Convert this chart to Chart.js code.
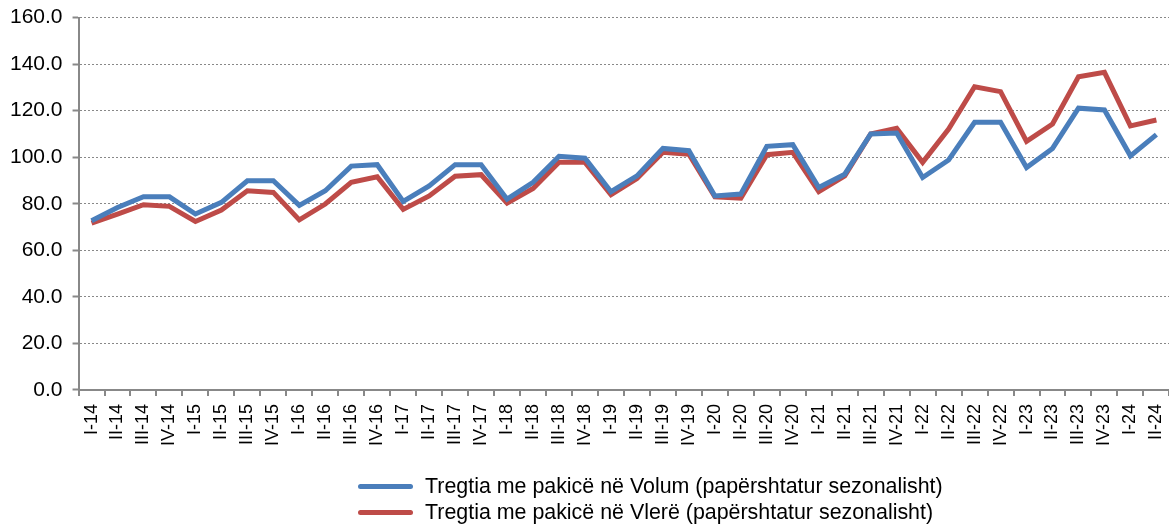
<!DOCTYPE html>
<html>
<head>
<meta charset="utf-8">
<script src="https://cdn.jsdelivr.net/npm/chart.js@4/dist/chart.umd.min.js"></script>
<style>
  html, body { margin: 0; padding: 0; background: #fff; }
  #wrap { width: 1169px; height: 527px; position: relative; overflow: hidden; }
  #plot { position: absolute; left: 0; top: -5px; width: 1186px; height: 532px; }
  #legend { position: absolute; left: 358px; top: 473px; font-family: 'Liberation Sans', Arial, sans-serif; font-size: 21.4px; color: #000; }
  #legend .item { display: flex; align-items: center; height: 26px; white-space: nowrap; }
  #legend .swatch { display: inline-block; width: 55px; height: 5px; border-radius: 3px; margin-right: 12px; }
</style>
</head>
<body>
<div id="wrap"><div id="plot"><canvas id="retailChart"></canvas></div><div id="legend"></div></div>
<script>
    // Quarters I-14 .. II-24
    const years = ['14', '15', '16', '17', '18', '19', '20', '21', '22', '23', '24'];
    const quarters = ['I', 'II', 'III', 'IV'];
    const labels = [];
    years.forEach(y => quarters.forEach(q => labels.push(q + '-' + y)));
    labels.splice(42);

    const volumeValues = [
        72.7, 78.4, 83.0, 83.0, 75.6, 80.6, 89.9, 89.9, 79.3, 85.6, 96.2, 96.8,
        81.0, 87.7, 96.8, 96.8, 82.0, 89.2, 100.4, 99.6, 85.2, 92.0, 103.8, 102.8,
        83.4, 84.2, 104.7, 105.4, 87.0, 92.7, 110.0, 110.4, 91.3, 98.8, 115.0, 115.0,
        95.6, 103.8, 121.1, 120.3, 100.6, 109.7
    ];
    const valueValues = [
        71.7, 75.6, 79.6, 78.9, 72.4, 77.3, 85.6, 84.9, 73.1, 79.9, 89.2, 91.6,
        77.6, 83.4, 91.8, 92.5, 80.3, 86.6, 97.8, 97.8, 83.9, 90.9, 102.1, 101.3,
        83.0, 82.4, 101.1, 102.1, 85.2, 92.0, 110.0, 112.4, 97.8, 112.1, 130.3, 128.2,
        106.8, 114.3, 134.6, 136.5, 113.5, 116.0
    ];
    const yTicks = [0, 20, 40, 60, 80, 100, 120, 140, 160];

    // legend drawn as html, two rows, left aligned
    const htmlLegend = {
        id: 'htmlLegend',
        afterUpdate(chart) {
            const box = document.getElementById('legend');
            box.innerHTML = '';
            chart.data.datasets.forEach(ds => {
                const row = document.createElement('div');
                row.className = 'item';
                const sw = document.createElement('span');
                sw.className = 'swatch';
                sw.style.background = ds.borderColor;
                row.appendChild(sw);
                row.appendChild(document.createTextNode(ds.label));
                box.appendChild(row);
            });
        }
    };

    const ctx = document.getElementById('retailChart').getContext('2d');
    new Chart(ctx, {
        type: 'line',
        data: {
        labels: labels,
        datasets: [{
            label: 'Tregtia me pakicë në Volum (papërshtatur sezonalisht)',
            data: volumeValues,
            borderColor: '#4A7EBB',
            backgroundColor: '#4A7EBB',
            borderWidth: 5,
            pointRadius: 0,
            tension: 0
        }, {
            label: 'Tregtia me pakicë në Vlerë (papërshtatur sezonalisht)',
            data: valueValues,
            borderColor: '#BE4B48',
            backgroundColor: '#BE4B48',
            borderWidth: 5,
            pointRadius: 0,
            tension: 0
        }]
        },
        options: {
        responsive: true,
        maintainAspectRatio: false,
        animation: false,
        layout: { padding: { top: 1, right: 0, left: 0, bottom: 73 } },
        plugins: {
            tooltip: { enabled: false },
            legend: { display: false }
        },
        scales: {
            x: {
                offset: true,
                grid: { offset: true, drawOnChartArea: false, drawTicks: true, tickLength: 6, color: '#888', tickColor: '#888', lineWidth: 2 },
                border: { color: '#888', width: 2 },
                ticks: {
                    color: '#000',
                    autoSkip: false,
                    minRotation: 90,
                    maxRotation: 90,
                    padding: 8,
                    font: { family: 'Liberation Sans', size: 18 }
                }
            },
            y: {
                min: 0,
                max: 160,
                afterBuildTicks: axis => { axis.ticks = yTicks.map(v => ({ value: v })); },
                grid: { color: '#888', lineWidth: 1, tickLength: 6, tickColor: '#888', tickWidth: 2 },
                border: { color: '#888', width: 2, dash: [2, 2] },
                ticks: {
                    color: '#000',
                    padding: 10,
                    font: { family: 'Liberation Sans', size: 21 },
                    callback: v => Number(v).toFixed(1)
                }
            }
        }
        },
        plugins: [htmlLegend]
    });
</script>
</body>
</html>
